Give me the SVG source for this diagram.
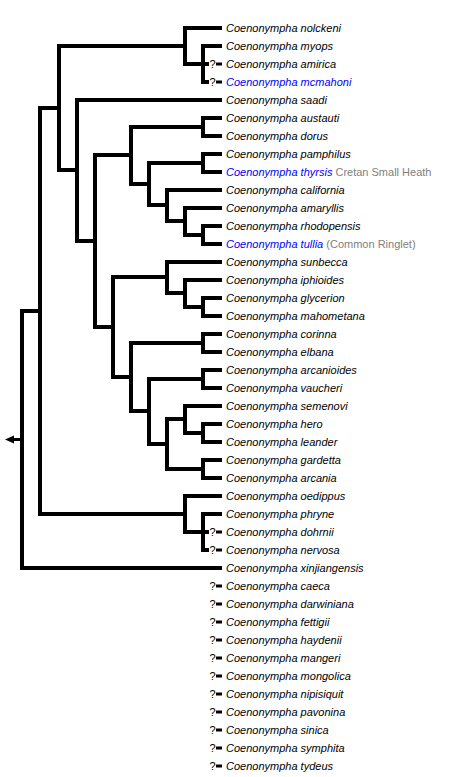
<svg xmlns="http://www.w3.org/2000/svg" width="462" height="777" viewBox="0 0 462 777">
<style>
.t{font-family:"Liberation Sans",Arial,sans-serif;font-size:11px;font-style:italic;fill:#000}
.b{fill:#0000ff}
.g{fill:#808080;font-style:normal}
.q{font-family:"Liberation Sans",Arial,sans-serif;font-size:11px;fill:#000}
.e{fill:none;stroke:#000;stroke-width:4;stroke-linejoin:miter;stroke-linecap:butt}
</style>
<defs>
<rect id="dash" x="216" y="-1.5" width="6" height="3" fill="#000"/>
</defs>
<rect width="462" height="777" fill="#fff"/>
<g id="connectors" class="e">
<path d="M14 439.5 H22" stroke-width="3"/>
<polygon points="5,439.5 14,435.5 14,443.5" fill="#000" stroke="none"/>
<path d="M40 311 H22 V568 H222"/>
<path d="M59 108 H40 V514 H185"/>
<path d="M185 46 H59 V170 H77"/>
<path d="M222 28 H185 V64 H203"/>
<path d="M222 46 H203 V82 H209 M203 64 H209"/>
<path d="M222 100 H77 V241 H95"/>
<path d="M131 155 H95 V327 H113"/>
<path d="M203 127 H131 V184 H149"/>
<path d="M222 118 H203 V136 H222"/>
<path d="M203 163 H149 V205 H167"/>
<path d="M222 154 H203 V172 H222"/>
<path d="M222 190 H167 V221 H185"/>
<path d="M222 208 H185 V235 H203"/>
<path d="M222 226 H203 V244 H222"/>
<path d="M167 277 H113 V377 H131"/>
<path d="M222 262 H167 V293 H185"/>
<path d="M222 280 H185 V307 H203"/>
<path d="M222 298 H203 V316 H222"/>
<path d="M203 343 H131 V411 H149"/>
<path d="M222 334 H203 V352 H222"/>
<path d="M203 379 H149 V444 H167"/>
<path d="M222 370 H203 V388 H222"/>
<path d="M185 419 H167 V469 H203"/>
<path d="M222 406 H185 V433 H203"/>
<path d="M222 424 H203 V442 H222"/>
<path d="M222 460 H203 V478 H222"/>
<path d="M222 496 H185 V532 H203"/>
<path d="M222 514 H203 V550 H209 M203 532 H209"/>
</g>
<g id="n-nolckeni"><text class="t" x="226" y="32">Coenonympha nolckeni</text></g>
<g id="n-myops"><text class="t" x="226" y="50">Coenonympha myops</text></g>
<g id="n-amirica"><text class="q" x="209.5" y="68">?</text><use href="#dash" y="64"/><text class="t" x="226" y="68">Coenonympha amirica</text></g>
<g id="n-mcmahoni"><text class="q" x="209.5" y="86">?</text><use href="#dash" y="82"/><text class="t b" x="226" y="86">Coenonympha mcmahoni</text></g>
<g id="n-saadi"><text class="t" x="226" y="104">Coenonympha saadi</text></g>
<g id="n-austauti"><text class="t" x="226" y="122">Coenonympha austauti</text></g>
<g id="n-dorus"><text class="t" x="226" y="140">Coenonympha dorus</text></g>
<g id="n-pamphilus"><text class="t" x="226" y="158">Coenonympha pamphilus</text></g>
<g id="n-thyrsis"><text class="t" x="226" y="176"><tspan class="b">Coenonympha thyrsis</tspan> <tspan class="g">Cretan Small Heath</tspan></text></g>
<g id="n-california"><text class="t" x="226" y="194">Coenonympha california</text></g>
<g id="n-amaryllis"><text class="t" x="226" y="212">Coenonympha amaryllis</text></g>
<g id="n-rhodopensis"><text class="t" x="226" y="230">Coenonympha rhodopensis</text></g>
<g id="n-tullia"><text class="t" x="226" y="248"><tspan class="b">Coenonympha tullia</tspan> <tspan class="g">(Common Ringlet)</tspan></text></g>
<g id="n-sunbecca"><text class="t" x="226" y="266">Coenonympha sunbecca</text></g>
<g id="n-iphioides"><text class="t" x="226" y="284">Coenonympha iphioides</text></g>
<g id="n-glycerion"><text class="t" x="226" y="302">Coenonympha glycerion</text></g>
<g id="n-mahometana"><text class="t" x="226" y="320">Coenonympha mahometana</text></g>
<g id="n-corinna"><text class="t" x="226" y="338">Coenonympha corinna</text></g>
<g id="n-elbana"><text class="t" x="226" y="356">Coenonympha elbana</text></g>
<g id="n-arcanioides"><text class="t" x="226" y="374">Coenonympha arcanioides</text></g>
<g id="n-vaucheri"><text class="t" x="226" y="392">Coenonympha vaucheri</text></g>
<g id="n-semenovi"><text class="t" x="226" y="410">Coenonympha semenovi</text></g>
<g id="n-hero"><text class="t" x="226" y="428">Coenonympha hero</text></g>
<g id="n-leander"><text class="t" x="226" y="446">Coenonympha leander</text></g>
<g id="n-gardetta"><text class="t" x="226" y="464">Coenonympha gardetta</text></g>
<g id="n-arcania"><text class="t" x="226" y="482">Coenonympha arcania</text></g>
<g id="n-oedippus"><text class="t" x="226" y="500">Coenonympha oedippus</text></g>
<g id="n-phryne"><text class="t" x="226" y="518">Coenonympha phryne</text></g>
<g id="n-dohrnii"><text class="q" x="209.5" y="536">?</text><use href="#dash" y="532"/><text class="t" x="226" y="536">Coenonympha dohrnii</text></g>
<g id="n-nervosa"><text class="q" x="209.5" y="554">?</text><use href="#dash" y="550"/><text class="t" x="226" y="554">Coenonympha nervosa</text></g>
<g id="n-xinjiangensis"><text class="t" x="226" y="572">Coenonympha xinjiangensis</text></g>
<g id="n-caeca"><text class="q" x="209.5" y="590">?</text><use href="#dash" y="586"/><text class="t" x="226" y="590">Coenonympha caeca</text></g>
<g id="n-darwiniana"><text class="q" x="209.5" y="608">?</text><use href="#dash" y="604"/><text class="t" x="226" y="608">Coenonympha darwiniana</text></g>
<g id="n-fettigii"><text class="q" x="209.5" y="626">?</text><use href="#dash" y="622"/><text class="t" x="226" y="626">Coenonympha fettigii</text></g>
<g id="n-haydenii"><text class="q" x="209.5" y="644">?</text><use href="#dash" y="640"/><text class="t" x="226" y="644">Coenonympha haydenii</text></g>
<g id="n-mangeri"><text class="q" x="209.5" y="662">?</text><use href="#dash" y="658"/><text class="t" x="226" y="662">Coenonympha mangeri</text></g>
<g id="n-mongolica"><text class="q" x="209.5" y="680">?</text><use href="#dash" y="676"/><text class="t" x="226" y="680">Coenonympha mongolica</text></g>
<g id="n-nipisiquit"><text class="q" x="209.5" y="698">?</text><use href="#dash" y="694"/><text class="t" x="226" y="698">Coenonympha nipisiquit</text></g>
<g id="n-pavonina"><text class="q" x="209.5" y="716">?</text><use href="#dash" y="712"/><text class="t" x="226" y="716">Coenonympha pavonina</text></g>
<g id="n-sinica"><text class="q" x="209.5" y="734">?</text><use href="#dash" y="730"/><text class="t" x="226" y="734">Coenonympha sinica</text></g>
<g id="n-symphita"><text class="q" x="209.5" y="752">?</text><use href="#dash" y="748"/><text class="t" x="226" y="752">Coenonympha symphita</text></g>
<g id="n-tydeus"><text class="q" x="209.5" y="770">?</text><use href="#dash" y="766"/><text class="t" x="226" y="770">Coenonympha tydeus</text></g>
</svg>
